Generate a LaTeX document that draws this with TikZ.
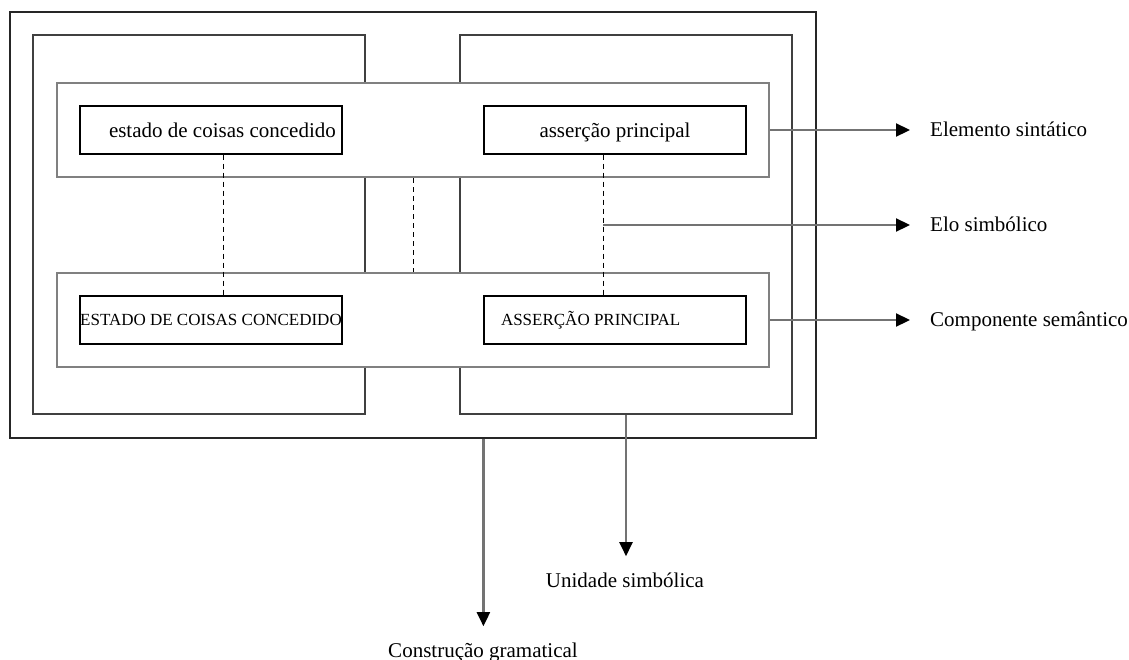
\documentclass[tikz,border=0pt]{standalone}
\usepackage{fontspec}
\setmainfont{Liberation Serif}
\usetikzlibrary{arrows.meta}
\begin{document}
\begin{tikzpicture}[x=1pt,y=-1pt,
  frame/.style={draw=black!85, line width=1.6pt, inner sep=0pt},
  column/.style={draw=black!75, line width=1.4pt, fill=white, inner sep=0pt,
    minimum width=332pt, minimum height=379pt},
  band/.style={draw=black!50, line width=2.2pt, fill=white, inner sep=0pt,
    minimum width=712pt, minimum height=94pt},
  item/.style={draw=black, line width=1.2pt, fill=white, minimum height=48pt,
    minimum width=262pt, inner xsep=0pt, inner ysep=0pt},
  plain/.style={item, font=\fontsize{21}{24}\selectfont, text height=14pt, text depth=0pt},
  caps/.style={item, font=\fontsize{17}{20}\selectfont, text height=11.5pt, text depth=0pt},
  link/.style={draw=black, line width=1pt, dash pattern=on 5pt off 4pt},
  pointer/.style={draw=black!55, line width=2.2pt,
    -{Triangle[length=14pt,width=13pt,color=black]}},
  caption/.style={inner sep=0pt, font=\fontsize{21}{24}\selectfont},
]
\useasboundingbox (0,0) rectangle (1129,659);

% outer construction frame and the two symbolic units
\node[frame, minimum width=806pt, minimum height=426pt] (outer) at (413,225) {};
\node[column] (lcol) at (199,224.5) {};
\node[column] (rcol) at (626,224.5) {};

% syntactic and semantic bands
\node[band] (syn) at (413,130) {};
\node[band] (sem) at (413,320) {};

% elements
\node[plain] (est) at (211,130) {\makebox[262pt][l]{\hspace*{29pt}estado de coisas concedido}};
\node[plain] (ap) at (615,130) {\makebox[262pt]{asserção principal}};
\node[caps] (EST) at (211,320) {\makebox[262pt]{ESTADO DE COISAS CONCEDIDO}};
\node[caps] (AP) at (615,320) {\makebox[262pt][l]{\hspace*{17pt}ASSERÇÃO PRINCIPAL}};

% symbolic links
\coordinate (dx1) at (223,0);
\coordinate (dx2) at (603,0);
\coordinate (dx3) at (413,0);
\draw[link] (est.south -| dx1) -- (EST.north -| dx1);
\draw[link] (ap.south -| dx2) -- (AP.north -| dx2);
\draw[link] (syn.south -| dx3) -- (sem.north -| dx3);

% labels
\node[caption, anchor=base west] (es) at (930,136) {Elemento sintático};
\node[caption, anchor=base west] (el) at (930,231) {Elo simbólico};
\node[caption, anchor=base west] (cs) at (930,326) {Componente semântico};
\node[caption, anchor=base] (us) at (625,587) {Unidade simbólica};
\node[caption, anchor=base] (cg) at (483,657) {Construção gramatical};

% pointers
\coordinate (elo) at (603,225);
\draw[pointer, shorten >=20pt] (syn.east) -- (syn.east -| es.west);
\draw[pointer, shorten >=20pt] (elo) -- (elo -| el.west);
\draw[pointer, shorten >=20pt] (sem.east) -- (sem.east -| cs.west);
\draw[pointer, shorten >=16pt] (rcol.south) -- (rcol.south |- us.north);
\draw[pointer, shorten >=16pt] (outer.south -| ap.west) -- (ap.west |- cg.north);
\end{tikzpicture}
\end{document}
